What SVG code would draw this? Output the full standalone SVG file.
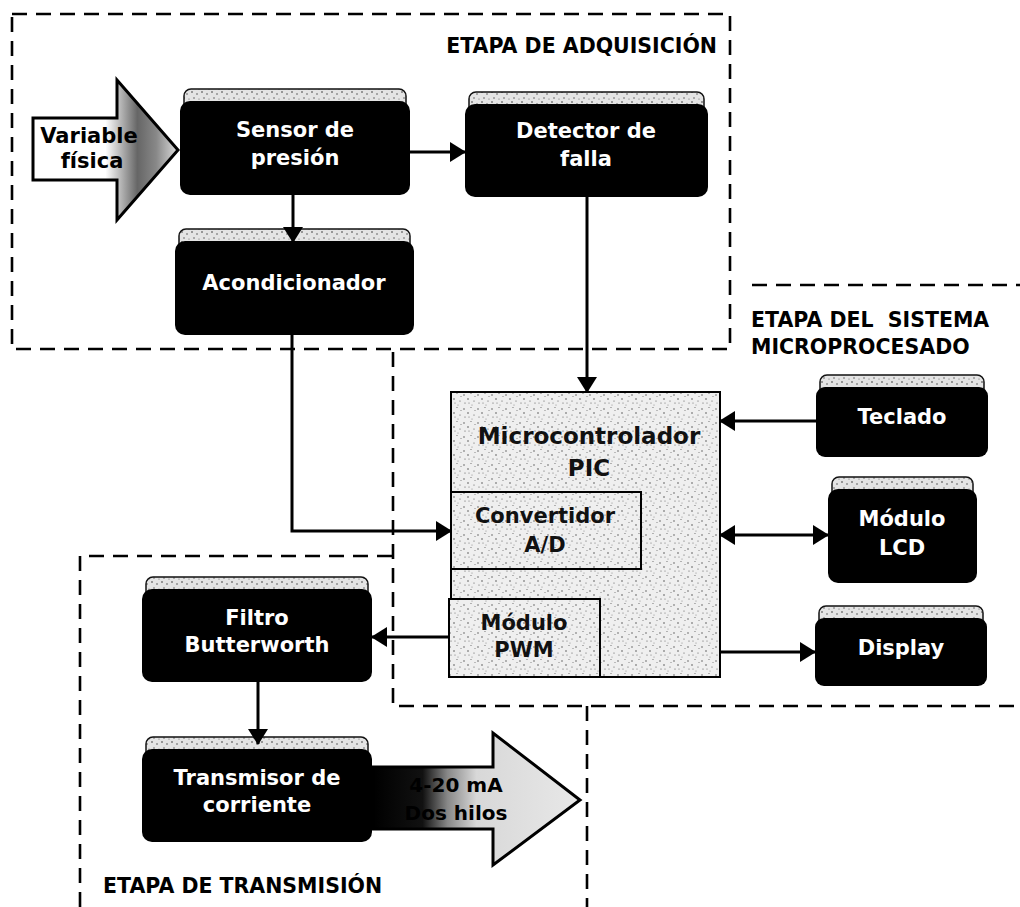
<svg xmlns="http://www.w3.org/2000/svg" width="1020" height="907" viewBox="0 0 1020 907">
<style>
.lbl{font-family:"DejaVu Sans","Liberation Sans",sans-serif;font-weight:bold;font-size:20.5px;fill:#000}
.wt{font-family:"DejaVu Sans","Liberation Sans",sans-serif;font-weight:bold;font-size:21px;fill:#fff;text-anchor:middle}
.bt{font-family:"DejaVu Sans","Liberation Sans",sans-serif;font-weight:bold;font-size:21px;fill:#111;text-anchor:middle}
.dash{fill:none;stroke:#000;stroke-width:2.6;stroke-dasharray:15 9}
.body{fill:#000}
.band{fill:url(#speck2);stroke:#111;stroke-width:1.5}
.conn{fill:none;stroke:#000;stroke-width:3}
.pic{fill:url(#speck);stroke:#000;stroke-width:2}
</style>
<defs>
<pattern id="speck" width="14" height="14" patternUnits="userSpaceOnUse">
<rect width="14" height="14" fill="#efefef"/>
<circle cx="2" cy="3" r="0.7" fill="#444"/>
<circle cx="9" cy="1.5" r="0.6" fill="#666"/>
<circle cx="6" cy="7" r="0.7" fill="#333"/>
<circle cx="12" cy="9" r="0.6" fill="#555"/>
<circle cx="3" cy="11" r="0.6" fill="#555"/>
<circle cx="10" cy="13" r="0.5" fill="#777"/>
<circle cx="13" cy="4.5" r="0.5" fill="#666"/>
<circle cx="7" cy="11" r="0.5" fill="#555"/>
</pattern>
<pattern id="speck2" width="10" height="10" patternUnits="userSpaceOnUse">
<rect width="10" height="10" fill="#e4e4e4"/>
<circle cx="2" cy="2" r="0.8" fill="#333"/>
<circle cx="7" cy="4" r="0.8" fill="#555"/>
<circle cx="4" cy="8" r="0.7" fill="#444"/>
<circle cx="9" cy="9" r="0.6" fill="#666"/>
</pattern>
<linearGradient id="gIn" x1="33" y1="0" x2="178" y2="0" gradientUnits="userSpaceOnUse">
<stop offset="0" stop-color="#fff"/>
<stop offset="0.5" stop-color="#fff"/>
<stop offset="0.72" stop-color="#666"/>
<stop offset="0.85" stop-color="#888"/>
<stop offset="1" stop-color="#ddd"/>
</linearGradient>
<linearGradient id="gOut" x1="373" y1="0" x2="580" y2="0" gradientUnits="userSpaceOnUse">
<stop offset="0" stop-color="#000"/>
<stop offset="0.24" stop-color="#111"/>
<stop offset="0.36" stop-color="#888"/>
<stop offset="0.5" stop-color="#d8d8d8"/>
<stop offset="1" stop-color="#e8e8e8"/>
</linearGradient>
<marker id="ah" viewBox="0 0 16 20" refX="15" refY="10" markerWidth="16" markerHeight="20" orient="auto-start-reverse" markerUnits="userSpaceOnUse">
<path d="M0,0 L16,10 L0,20 Z" fill="#000"/>
</marker>
</defs>
<rect width="1020" height="907" fill="#fff"/>

<g id="regions">
<rect class="dash" x="12" y="14" width="718" height="335"/>
<path class="dash" d="M752,285 H1020"/>
<path class="dash" d="M393,352 V706 H1020"/>
<path class="dash" d="M80,907 V556 H393"/>
<path class="dash" d="M587,706 V907"/>
<text class="lbl" x="717" y="53" text-anchor="end">ETAPA DE ADQUISICIÓN</text>
<text class="lbl" x="751" y="327" xml:space="preserve">ETAPA DEL  SISTEMA</text>
<text class="lbl" x="751" y="354">MICROPROCESADO</text>
<text class="lbl" x="103" y="893">ETAPA DE TRANSMISIÓN</text>
</g>

<g id="variable-fisica">
<path d="M33,118 H117 V80 L178,150 L117,220 V180 H33 Z" fill="url(#gIn)" stroke="#000" stroke-width="3"/>
<text class="bt" x="89" y="143" style="fill:#000">Variable</text>
<text class="bt" x="92" y="168" style="fill:#000">física</text>
</g>

<g id="sensor">
<rect class="band" x="184" y="89" width="222" height="22" rx="7"/>
<rect class="body" x="180" y="101" width="230" height="94" rx="10"/>
<text class="wt" x="295" y="137">Sensor de</text>
<text class="wt" x="295" y="165">presión</text>
</g>

<g id="detector">
<rect class="band" x="469" y="92" width="235" height="22" rx="7"/>
<rect class="body" x="465" y="104" width="243" height="93" rx="10"/>
<text class="wt" x="586" y="138">Detector de</text>
<text class="wt" x="586" y="166">falla</text>
</g>

<g id="acondicionador">
<rect class="band" x="179" y="229" width="231" height="22" rx="7"/>
<rect class="body" x="175" y="241" width="239" height="94" rx="10"/>
<text class="wt" x="294" y="290">Acondicionador</text>
</g>

<g id="microcontrolador">
<rect class="pic" x="451" y="392" width="269" height="285"/>
<text class="bt" x="589" y="444" style="font-size:23px">Microcontrolador</text>
<text class="bt" x="589" y="476" style="font-size:23px">PIC</text>
</g>

<g id="convertidor">
<rect class="pic" x="451" y="492" width="190" height="77"/>
<text class="bt" x="545" y="523">Convertidor</text>
<text class="bt" x="545" y="552">A/D</text>
</g>

<g id="pwm">
<rect class="pic" x="449" y="599" width="151" height="78"/>
<text class="bt" x="524" y="630">Módulo</text>
<text class="bt" x="524" y="657">PWM</text>
</g>

<g id="teclado">
<rect class="band" x="820" y="375" width="164" height="22" rx="7"/>
<rect class="body" x="816" y="387" width="172" height="70" rx="9"/>
<text class="wt" x="902" y="424">Teclado</text>
</g>

<g id="lcd">
<rect class="band" x="832" y="477" width="141" height="22" rx="7"/>
<rect class="body" x="828" y="489" width="149" height="94" rx="10"/>
<text class="wt" x="902" y="526">Módulo</text>
<text class="wt" x="902" y="555">LCD</text>
</g>

<g id="display">
<rect class="band" x="819" y="606" width="164" height="22" rx="7"/>
<rect class="body" x="815" y="618" width="172" height="68" rx="9"/>
<text class="wt" x="901" y="655">Display</text>
</g>

<g id="filtro">
<rect class="band" x="146" y="577" width="222" height="22" rx="7"/>
<rect class="body" x="142" y="589" width="230" height="93" rx="10"/>
<text class="wt" x="257" y="625">Filtro</text>
<text class="wt" x="257" y="652">Butterworth</text>
</g>

<g id="transmisor">
<rect class="band" x="146" y="737" width="222" height="22" rx="7"/>
<rect class="body" x="142" y="749" width="230" height="93" rx="10"/>
<text class="wt" x="257" y="785">Transmisor de</text>
<text class="wt" x="257" y="812">corriente</text>
</g>

<g id="salida">
<path d="M373,767 H493 V733 L580,800 L493,865 V829 H373 Z" fill="url(#gOut)" stroke="#000" stroke-width="3"/>
<text class="bt" x="456" y="792" style="font-size:20px;fill:#000">4-20 mA</text>
<text class="bt" x="456" y="820" style="font-size:20px;fill:#000">Dos hilos</text>
</g>

<g id="connectors">
<path class="conn" d="M410,152 H465" marker-end="url(#ah)"/>
<path class="conn" d="M293,195 V242" marker-end="url(#ah)"/>
<path class="conn" d="M587,197 V392" marker-end="url(#ah)"/>
<path class="conn" d="M292,335 V531 H451" marker-end="url(#ah)"/>
<path class="conn" d="M816,421 H720" marker-end="url(#ah)"/>
<path class="conn" d="M720,535 H828" marker-start="url(#ah)" marker-end="url(#ah)"/>
<path class="conn" d="M720,652 H815" marker-end="url(#ah)"/>
<path class="conn" d="M449,637 H372" marker-end="url(#ah)"/>
<path class="conn" d="M258,682 V744" marker-end="url(#ah)"/>
</g>
</svg>
